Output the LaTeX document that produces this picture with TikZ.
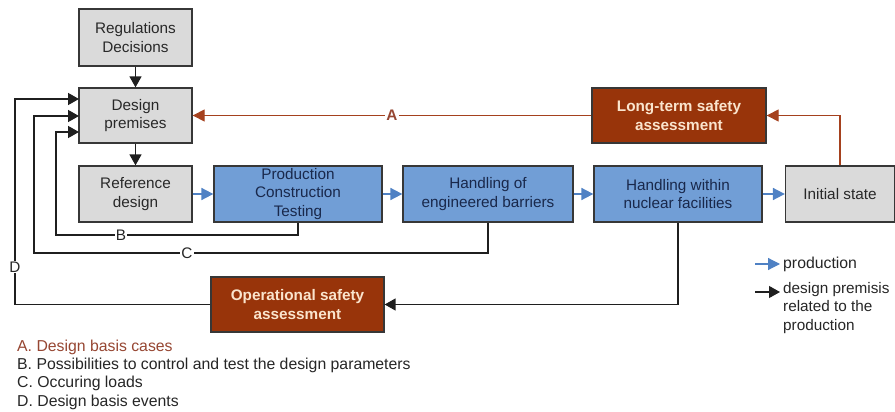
\documentclass[tikz,border=0pt]{standalone}
\usepackage{fontspec}
\setmainfont{Liberation Sans}
\usetikzlibrary{arrows.meta}
\definecolor{boxgray}{RGB}{218,218,218}
\definecolor{boxblue}{RGB}{113,158,214}
\definecolor{boxbrown}{RGB}{152,52,10}
\definecolor{edgegray}{RGB}{55,55,55}
\definecolor{arrblue}{RGB}{79,129,196}
\definecolor{arrbrown}{RGB}{165,65,30}
\definecolor{txtgray}{RGB}{40,40,40}
\definecolor{txtnavy}{RGB}{25,40,75}
\definecolor{txtpeach}{RGB}{250,228,205}
\definecolor{legbrown}{RGB}{150,70,50}
\begin{document}
\begin{tikzpicture}[x=1pt,y=-1pt,
  every node/.style={font=\fontsize{15.3}{18.5}\selectfont, align=center, inner sep=0pt},
  box/.style={draw=edgegray, line width=1.3pt, minimum height=55pt},
  gbox/.style={box, fill=boxgray, text=txtgray},
  bbox/.style={box, fill=boxblue, text=txtnavy},
  rbox/.style={box, fill=boxbrown, text=txtpeach, font=\fontsize{15.3}{18.5}\selectfont\bfseries},
  blk/.style={line width=1.5pt, draw=black!88, -{Triangle[length=11pt,width=12pt]}},
  blu/.style={line width=1.8pt, draw=arrblue, -{Triangle[length=12pt,width=12pt]}},
  brn/.style={line width=1.1pt, draw=arrbrown, -{Triangle[length=12pt,width=12pt]}},
  lbl/.style={fill=white, inner sep=1pt, text=black!85},
  legtxt/.style={anchor=west, text=black!85, font=\fontsize{15.8}{18.5}\selectfont},
]
\useasboundingbox (0,0) rectangle (895,412);

% boxes
\node[gbox, minimum width=113pt, minimum height=57pt] (reg) at (135.5,37.5) {Regulations\\Decisions};
\node[gbox, minimum width=113pt] (dp) at (135.5,115.5) {Design\\premises};
\node[gbox, minimum width=113pt, minimum height=56pt] (ref) at (135.5,194) {Reference\\design};
\node[bbox, minimum width=168pt, minimum height=56pt] (prod) at (298,194) {Production\\Construction\\Testing};
\node[bbox, minimum width=170pt, minimum height=56pt] (heb) at (488,194) {Handling of\\engineered barriers};
\node[bbox, minimum width=168pt, minimum height=56pt] (hwn) at (678,194) {Handling within\\nuclear facilities};
\node[gbox, minimum width=109pt, minimum height=56pt] (init) at (840,194) {Initial state};
\node[rbox, minimum width=174pt] (lt) at (679,115.5) {Long-term safety\\assessment};
\node[rbox, minimum width=173pt] (op) at (297.5,304.5) {Operational safety\\assessment};

% named points
\coordinate (dpD) at (79,99);
\coordinate (dpC) at (79,116);
\coordinate (dpB) at (79,132);
\coordinate (bc) at (56,235);
\coordinate (cc) at (34,253);
\coordinate (dc) at (15,304.5);

% vertical flow
\draw[blk] (reg) -- (dp);
\draw[blk] (dp) -- (ref);

% production flow
\draw[blu] (ref) -- (prod);
\draw[blu] (prod) -- (heb);
\draw[blu] (heb) -- (hwn);
\draw[blu] (hwn) -- (init);

% long-term feedback
\draw[brn] (init.north) |- (lt.east);
\draw[brn] (lt.west) -- (dp.east);

% B, C, D loops
\draw[blk] (prod.south) |- (bc) |- (dpB);
\draw[blk] (heb.south) |- (cc) |- (dpC);
\draw[blk] (hwn.south) |- (op.east);
\draw[blk] (op.west) -- (dc) |- (dpD);

% connector labels
\node[lbl, text=legbrown, font=\fontsize{15.3}{18.5}\selectfont\bfseries] (labA) at (392,115) {A};
\node[lbl] (labB) at (121,235) {B};
\node[lbl] (labC) at (187,253) {C};
\node[lbl] (labD) at (15,267) {D};

% legend (right)
\coordinate (lb1) at (755,264);
\coordinate (lb2) at (780,264);
\coordinate (lk1) at (755,292);
\coordinate (lk2) at (780,292);
\draw[blu, line width=1.2pt] (lb1) -- (lb2);
\draw[blk, line width=1.2pt] (lk1) -- (lk2);
\node[legtxt] (legprod) at (783,264) {production};
\node[anchor=north west, align=left, text=black!85, font=\fontsize{15.3}{18.5}\selectfont] (legdes) at (783,282) {design premisis\\related to the\\production};

% legend (bottom)
\node[legtxt, text=legbrown] (legA) at (17,347) {A. Design basis cases};
\node[legtxt] (legB) at (17,365) {B. Possibilities to control and test the design parameters};
\node[legtxt] (legC) at (17,383.5) {C. Occuring loads};
\node[legtxt] (legD) at (17,402) {D. Design basis events};
\end{tikzpicture}
\end{document}
